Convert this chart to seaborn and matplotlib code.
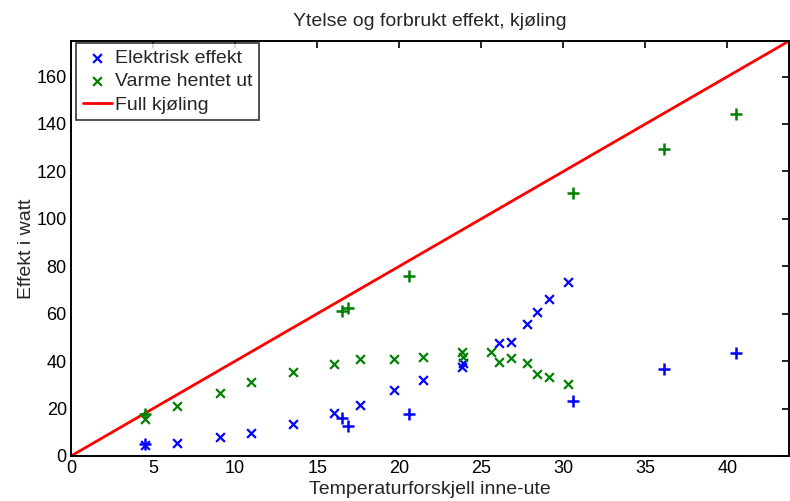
import numpy as np
import pandas as pd
import matplotlib
matplotlib.use("Agg")
import matplotlib.pyplot as plt
import seaborn as sns

# Measurements plotted with 'x' markers
dt_x = [4.5, 6.43, 9.07, 10.96, 13.5, 16.03, 17.6, 19.7, 21.44, 23.8, 23.9,
        26.07, 26.8, 27.8, 28.4, 29.1, 30.27]
el_x = [4.6, 5.6, 7.9, 9.6, 13.5, 18.0, 21.5, 27.8, 32.1, 37.7, 39.1,
        47.5, 48.2, 55.7, 60.9, 66.2, 73.5]
dt_xg = [4.5, 6.43, 9.07, 10.96, 13.5, 16.03, 17.6, 19.7, 21.44, 23.8, 23.9,
         25.6, 26.07, 26.8, 27.8, 28.4, 29.1, 30.27]
heat_x = [15.6, 21.1, 26.5, 31.1, 35.6, 38.8, 40.8, 40.8, 41.9, 43.7, 41.9,
          44.0, 39.8, 41.2, 39.1, 34.5, 33.2, 30.3]

# Measurements plotted with '+' markers
dt_p = [4.5, 16.5, 16.9, 20.6, 30.6, 36.15, 40.55]
el_p = [4.9, 16.2, 12.7, 17.7, 23.3, 36.7, 43.3]
heat_p = [17.6, 61.2, 62.6, 76.0, 110.8, 129.4, 144.2]

# Full cooling reference line: 4 W per degree
line_x = [0, 43.75]
line_y = [0, 175]

sns.set_style("white")
plt.rcParams["font.family"] = ["Liberation Sans", "DejaVu Sans"]
plt.rcParams["font.size"] = 13

fig = plt.figure(figsize=(7.9, 5.01), dpi=100)
ax = fig.add_axes([71 / 790, 1 - 456 / 501, 718 / 790, 415 / 501])

blue = (0, 0, 1)
green = (0, 0.5, 0)
red = (1, 0, 0)

sns.scatterplot(x=dt_x, y=el_x, ax=ax, marker="x", color=blue, s=40,
                linewidth=1.6, label="Elektrisk effekt", zorder=3)
sns.scatterplot(x=dt_xg, y=heat_x, ax=ax, marker="x", color=green, s=40,
                linewidth=1.6, label="Varme hentet ut", zorder=3)
sns.lineplot(x=line_x, y=line_y, ax=ax, color=red, linewidth=2,
             label="Full kjøling", zorder=2)
sns.scatterplot(x=dt_p, y=el_p, ax=ax, marker="+", color=blue, s=70,
                linewidth=1.8, zorder=3)
sns.scatterplot(x=dt_p, y=heat_p, ax=ax, marker="+", color=green, s=70,
                linewidth=1.8, zorder=3)

ax.set_xlim(0, 43.75)
ax.set_ylim(0, 175)
ax.set_xticks(np.arange(0, 45, 5))
ax.set_yticks(np.arange(0, 180, 20))
ax.tick_params(direction="in", length=5, width=1.2, top=True, right=True,
               labelsize=13, pad=3, colors="black")
for sp in ax.spines.values():
    sp.set_visible(True)
    sp.set_color("black")
    sp.set_linewidth(1.4)

ax.set_title("Ytelse og forbrukt effekt, kjøling", fontsize=14, pad=11)
ax.set_xlabel("Temperaturforskjell inne-ute", fontsize=14, labelpad=3)
ax.set_ylabel("Effekt i watt", fontsize=14, labelpad=1)

leg = ax.legend(loc="upper left", frameon=True, fancybox=False,
                borderaxespad=0.0, handlelength=1.5, handletextpad=0.15,
                labelspacing=0.28, borderpad=0.35, fontsize=14,
                bbox_to_anchor=(5 / 718, 1 - 2 / 415))
leg.get_frame().set_edgecolor("black")
leg.get_frame().set_linewidth(1.2)

fig.savefig("out.png", dpi=100)
